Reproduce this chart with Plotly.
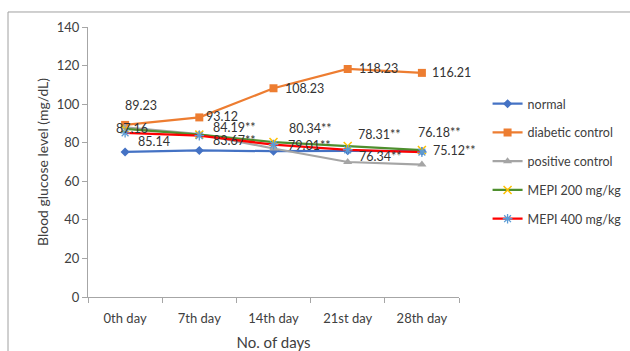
import plotly.graph_objects as go

# Sampling days on the x axis
days = ["0th day", "7th day", "14th day", "21st day", "28th day"]

# Blood glucose level (mg/dL) per group
normal = [75.2, 76.0, 75.6, 75.8, 75.6]
diabetic_control = [89.23, 93.12, 108.23, 118.23, 116.21]
positive_control = [88.0, 84.5, 77.0, 70.0, 68.7]
mepi_200 = [87.16, 84.19, 80.34, 78.31, 76.18]
mepi_400 = [85.14, 83.67, 79.01, 76.34, 75.12]

# Significance marks appended to the treated-group labels
mepi_200_sig = ["", "**", "**", "**", "**"]
mepi_400_sig = ["", "**", "**", "**", "**"]

# Pixel offsets of the value labels from their points
diab_shift = [(16, 19), (23, 1), (31, 0), (31, 0), (30, 0)]
m200_shift = [(7, 0), (35, 7), (37, 14), (32, 11), (18, 18)]
m400_shift = [(29, -9), (35, -5), (36, -1), (33, -7), (33, 2)]

FONT = "Lato, 'Open Sans', sans-serif"
TEXT = "#404040"
AXIS = "#A6A6A6"

fig = go.Figure()

series = [
    ("normal", normal, "#4472C4", dict(symbol="diamond", size=7, color="#4472C4")),
    ("diabetic control", diabetic_control, "#ED7D31", dict(symbol="square", size=8, color="#ED7D31")),
    ("positive control", positive_control, "#A5A5A5", dict(symbol="triangle-up", size=8, color="#A5A5A5")),
    ("MEPI 200 mg/kg", mepi_200, "#4E8F2E",
     dict(symbol="x-thin-open", size=8, color="#FFC000", line=dict(width=1.5, color="#FFC000"))),
    ("MEPI 400 mg/kg", mepi_400, "#FF0000",
     dict(symbol="asterisk-open", size=8, color="#5B9BD5", line=dict(width=1.3, color="#5B9BD5"))),
]

for i, (name, vals, color, marker) in enumerate(series):
    fig.add_trace(go.Scatter(
        x=days, y=vals, name=name, mode="lines+markers",
        line=dict(color=color, width=2.25), marker=marker,
        legendgroup=f"g{i}",
    ))

annotations = []


def add_labels(vals, shifts, suffixes=None):
    for j, v in enumerate(vals):
        suffix = suffixes[j] if suffixes else ""
        dx, dy = shifts[j]
        annotations.append(dict(
            x=days[j], y=v, xref="x", yref="y", text=f"{v:.2f}{suffix}",
            showarrow=False, xshift=dx, yshift=dy,
            font=dict(family=FONT, size=12.5, color="#333333"),
        ))


add_labels(diabetic_control, diab_shift)
add_labels(mepi_200, m200_shift, mepi_200_sig)
add_labels(mepi_400, m400_shift, mepi_400_sig)

fig.update_layout(
    width=630, height=351,
    margin=dict(l=88, r=171, t=27, b=54, autoexpand=False),
    paper_bgcolor="white", plot_bgcolor="white",
    font=dict(family=FONT, size=13, color=TEXT),
    showlegend=True,
    legend=dict(
        x=1.077, y=0.77, xanchor="left", yanchor="top",
        font=dict(family=FONT, size=12.5, color=TEXT),
        tracegroupgap=9.5, itemwidth=30, bgcolor="rgba(0,0,0,0)",
    ),
    annotations=annotations,
    shapes=[dict(
        type="rect", xref="paper", yref="paper",
        x0=-0.2156, x1=1.6, y0=-0.3, y1=1.0556,
        line=dict(color="#A0A0A0", width=1), fillcolor="rgba(0,0,0,0)",
        layer="below",
    )],
)

fig.update_xaxes(
    type="category", range=[-0.5, 4.5], automargin=False,
    showgrid=False, showline=True, linecolor=AXIS, linewidth=1,
    ticks="outside", tickson="boundaries", ticklen=5, tickcolor=AXIS,
    ticklabelstandoff=9,
    tickfont=dict(family=FONT, size=13, color=TEXT),
    title=dict(text="No. of days", font=dict(family=FONT, size=15, color=TEXT), standoff=17),
    zeroline=False,
)
fig.update_yaxes(
    range=[0, 140], dtick=20, automargin=False,
    showgrid=False, showline=True, linecolor=AXIS, linewidth=1,
    ticks="outside", ticklen=5, tickcolor=AXIS,
    tickfont=dict(family=FONT, size=13, color=TEXT),
    title=dict(text="Blood glucose level (mg/dL)", font=dict(family=FONT, size=14, color=TEXT), standoff=4),
    zeroline=False,
)

fig.write_html("out.html")
